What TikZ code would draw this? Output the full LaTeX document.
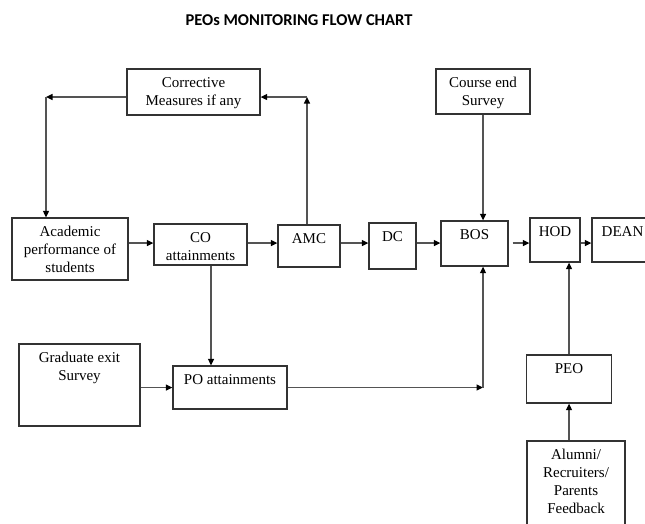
\documentclass[tikz,border=0pt]{standalone}
\usepackage{fontspec}
\setmainfont{Liberation Serif}
\newfontfamily\headfont{Carlito}
\usepackage{tikz}
\usetikzlibrary{arrows.meta}
\tikzset{blk/.style = {draw = bline, line width = 1.3pt, inner sep = 0, font = \fontsize{15}{18}\selectfont}}
\tikzset{arr/.style = {draw = aline, line width = 1.3pt, -{Triangle[length = 6.5pt, width = 6pt, black]}}}
\definecolor{bline}{rgb}{0.2, 0.2, 0.2}
\definecolor{aline}{rgb}{0.33, 0.33, 0.33}
\newcommand{\bx}[3]{\parbox[c][#2pt][t]{#1pt}{\centering\rule{0pt}{18pt}#3}}

\begin{document}
\begin{tikzpicture}[x = 1pt, y = -1pt]
      \useasboundingbox (0, 0) rectangle (645, 523);
      \node (title) at (299, 20) {\headfont\bfseries\fontsize{16.5}{19}\selectfont PEOs MONITORING FLOW CHART};
      \node [blk] (corr) at (193.5, 92) {\bx{133}{46}{Corrective\\Measures if any}};
      \node [blk] (cend) at (483, 91.5) {\bx{94}{45}{Course end\\Survey}};
      \node [blk] (acad) at (70, 249) {\bx{116}{62}{Academic\\performance of\\students}};
      \node [blk] (co) at (200.5, 244.5) {\bx{93}{41}{CO\\attainments}};
      \node [blk] (amc) at (309, 246) {\bx{62}{42}{AMC}};
      \node [blk] (dc) at (392.5, 246) {\bx{47}{46}{DC}};
      \node [blk] (bos) at (474.5, 243.5) {\bx{67}{45}{BOS}};
      \node [blk] (hod) at (555, 240) {\bx{50}{44}{HOD}};
      \node [blk] (dean) at (622.5, 240) {\bx{61}{44}{DEAN}};
      \node [blk] (grad) at (79.5, 385) {\bx{121}{82}{Graduate exit\\Survey}};
      \node [blk] (po) at (230, 387.5) {\bx{114}{43}{PO attainments}};
      \node [blk] (peo) at (569, 379) {\bx{85}{48}{PEO}};
      \node [blk] (alum) at (576, 486) {\bx{98}{90}{Alumni/\\Recruiters/\\Parents\\Feedback}};
      \coordinate (row) at (0, 243);
      \coordinate (tl) at (46, 97);
      \coordinate (tr) at (307, 97);
      \coordinate (pc) at (cend.south |- po.east);
      \draw [arr] (corr.west |- tl) -- (tl);
      \draw [arr] (tl) -- (tl |- acad.north);
      \draw [arr] (tr |- amc.north) -- (tr);
      \draw [arr] (tr) -- (tr -| corr.east);
      \draw [arr] (acad.east |- row) -- (co.west |- row);
      \draw [arr] (co.east |- row) -- (amc.west |- row);
      \draw [arr] (amc.east |- row) -- (dc.west |- row);
      \draw [arr] (dc.east |- row) -- (bos.west |- row);
      \draw [arr] ([xshift = 4pt]bos.east |- row) -- (hod.west |- row);
      \draw [arr] (hod.east |- row) -- (dean.west |- row);
      \draw [arr] (cend.south) -- (cend.south |- bos.north);
      \draw [arr] ([xshift = 10.5pt]co.south) -- ([xshift = 10.5pt]co.south |- po.north);
      \draw [arr] (grad.east |- po.west) -- (po.west);
      \draw [arr] (po.east) -- (pc);
      \draw [arr] (pc) -- (pc |- bos.south);
      \draw [arr] (peo.north) -- (peo.north |- hod.south);
      \draw [arr] (peo.south |- alum.north) -- (peo.south);
\end{tikzpicture}
\end{document}
